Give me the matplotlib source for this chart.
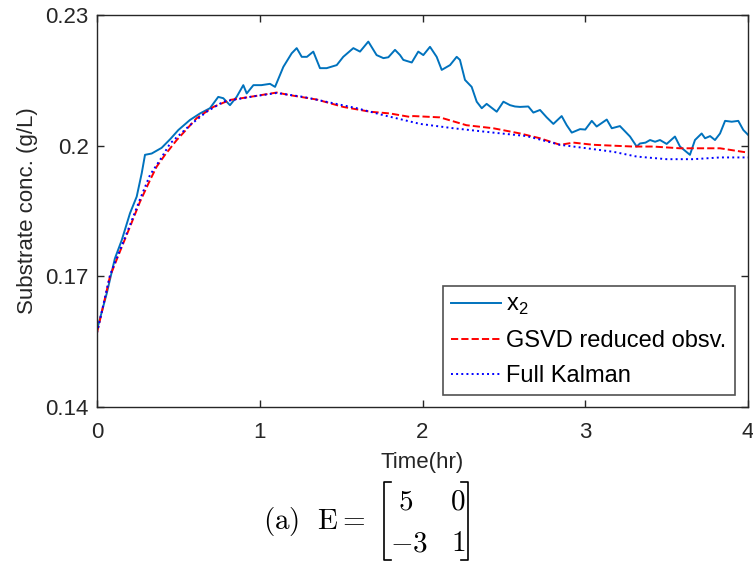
import numpy as np
import matplotlib.pyplot as plt
from matplotlib.lines import Line2D

plt.rcParams['font.family'] = ['Liberation Sans', 'DejaVu Sans']
plt.rcParams['mathtext.fontset'] = 'cm'

t_x2 = [0.0, 0.06, 0.11, 0.152, 0.203, 0.244, 0.275, 0.295, 0.336, 0.397, 0.45, 0.5,
        0.571, 0.633, 0.694, 0.745, 0.776, 0.817, 0.858, 0.899, 0.92, 0.961, 1.01,
        1.063, 1.094, 1.145, 1.196, 1.227, 1.258, 1.29, 1.329, 1.37, 1.411, 1.473,
        1.513, 1.575, 1.616, 1.667, 1.718, 1.76, 1.79, 1.831, 1.862, 1.882, 1.934,
        1.974, 2.005, 2.046, 2.087, 2.118, 2.169, 2.21, 2.23, 2.261, 2.302, 2.333,
        2.364, 2.394, 2.456, 2.497, 2.538, 2.568, 2.599, 2.65, 2.681, 2.722, 2.763,
        2.804, 2.855, 2.886, 2.917, 2.968, 3.0, 3.04, 3.07, 3.132, 3.163, 3.213,
        3.275, 3.316, 3.336, 3.37, 3.398, 3.429, 3.459, 3.5, 3.551, 3.582, 3.643,
        3.674, 3.715, 3.736, 3.767, 3.797, 3.828, 3.859, 3.9, 3.94, 3.971, 4.0]
x2 = [0.1577, 0.1661, 0.1741, 0.1783, 0.1845, 0.1883, 0.1937, 0.1979, 0.1982, 0.1995,
      0.2015, 0.2036, 0.2059, 0.2074, 0.2086, 0.2112, 0.2109, 0.2093, 0.2112, 0.2139,
      0.212, 0.2139, 0.2139, 0.2142, 0.2135, 0.2181, 0.2212, 0.2224, 0.2204, 0.2204,
      0.2216, 0.2178, 0.2178, 0.2185, 0.2204, 0.2224, 0.2216, 0.2239, 0.2208, 0.2201,
      0.2203, 0.222, 0.2208, 0.2197, 0.2191, 0.2216, 0.2208, 0.2227, 0.2204, 0.2174,
      0.2185, 0.2204, 0.2197, 0.2151, 0.2135, 0.2101, 0.2086, 0.2096, 0.2078, 0.2101,
      0.2093, 0.209, 0.2089, 0.209, 0.2076, 0.2082, 0.2065, 0.205, 0.2068, 0.2047,
      0.203, 0.2038, 0.2037, 0.2057, 0.2044, 0.206, 0.204, 0.2045, 0.2021, 0.1998,
      0.2005, 0.2007, 0.2013, 0.2009, 0.2013, 0.2004, 0.2021, 0.1998, 0.1979, 0.2013,
      0.2028, 0.2017, 0.2022, 0.2013, 0.2028, 0.2057, 0.2055, 0.2057, 0.2036, 0.2025]

# GSVD reduced observer estimate
t_gsvd = [0.0, 0.08, 0.141, 0.203, 0.264, 0.326, 0.367, 0.418, 0.49, 0.51, 0.612,
          0.715, 0.817, 0.94, 1.104, 1.186, 1.35, 1.513, 1.677, 1.8, 1.923, 1.944,
          2.107, 2.27, 2.435, 2.6, 2.722, 2.845, 2.927, 3.05, 3.172, 3.295, 3.418,
          3.582, 3.705, 3.828, 4.0]
gsvd = [0.157, 0.17, 0.1757, 0.1814, 0.1871, 0.1921, 0.1952, 0.1979, 0.2013, 0.2021,
        0.2063, 0.2089, 0.2105, 0.2112, 0.2122, 0.2116, 0.2106, 0.2089, 0.2078, 0.2074,
        0.2066, 0.2068, 0.2065, 0.2047, 0.204, 0.2028, 0.2017, 0.2002, 0.2007, 0.2002,
        0.2, 0.1998, 0.1998, 0.1994, 0.1994, 0.1994, 0.1984]

# full Kalman filter estimate
t_kal = [0.0, 0.08, 0.141, 0.203, 0.264, 0.326, 0.387, 0.449, 0.571, 0.674, 0.776,
         0.94, 1.104, 1.268, 1.432, 1.596, 1.76, 1.862, 1.985, 2.19, 2.435, 2.64,
         2.845, 3.01, 3.172, 3.316, 3.5, 3.664, 3.828, 4.0]
kal = [0.157, 0.1703, 0.176, 0.1818, 0.1877, 0.1933, 0.1967, 0.2005, 0.2047, 0.2078,
       0.2101, 0.2112, 0.2121, 0.2112, 0.2099, 0.2086, 0.207, 0.2061, 0.205, 0.204,
       0.203, 0.2022, 0.2002, 0.1994, 0.1986, 0.1975, 0.1969, 0.1969, 0.1973, 0.1973]

fs = 16

fig = plt.figure(figsize=(7.53, 5.67), dpi=100)
ax = fig.add_axes([0.1288, 0.2822, 0.8646, 0.6913])

ax.plot(t_x2, x2, color='#0072BD', lw=1.4, label=r'x$_\mathregular{2}$')
ax.plot(t_gsvd, gsvd, 'r--', lw=1.4, label='GSVD reduced obsv.')
ax.plot(t_kal, kal, 'b:', lw=1.4, label='Full Kalman')

ax.set_xlim(0, 4)
ax.set_ylim(0.14, 0.23)
ax.set_xticks([0, 1, 2, 3, 4])
ax.set_yticks([0.14, 0.17, 0.2, 0.23])
ax.set_yticklabels(['0.14', '0.17', '0.2', '0.23'])
ax.tick_params(direction='in', labelsize=fs, top=True, right=True, length=5,
               width=1, color='#262626', labelcolor='#262626')
ax.tick_params(axis='x', pad=11)
ax.tick_params(axis='y', pad=6)
for s in ax.spines.values():
    s.set_color('#262626')
    s.set_linewidth(1)
ax.set_xlabel('Time(hr)', fontsize=fs, color='#262626', labelpad=6)
ax.set_ylabel('Substrate conc. (g/L)', fontsize=fs, color='#262626', labelpad=5)

leg = ax.legend(loc='lower right', bbox_to_anchor=(0.98, 0.03),
                fontsize=17, frameon=True, fancybox=False, handlelength=2.1,
                borderpad=0.35, labelspacing=0.55, handletextpad=0.25,
                borderaxespad=0.0)
leg.get_frame().set_edgecolor('#262626')
leg.get_frame().set_linewidth(1.2)

# caption with matrix
cs = 21
fig.text(0.4847, 0.0794, r'$\mathrm{(a)}\ \ \mathrm{E} =$', ha='right', va='center', fontsize=cs)
fig.text(0.538, 0.1152, r'$5$', ha='center', va='center', fontsize=cs)
fig.text(0.608, 0.1152, r'$0$', ha='center', va='center', fontsize=cs)
fig.text(0.568, 0.0423, r'$-3$', ha='right', va='center', fontsize=cs)
fig.text(0.608, 0.0423, r'$1$', ha='center', va='center', fontsize=cs)
W, H = 753, 567
for x0, dx in [(384, 7), (468, -7)]:
    fig.add_artist(Line2D([(x0 + dx) / W, x0 / W, x0 / W, (x0 + dx) / W],
                          [1 - 482 / H, 1 - 482 / H, 1 - 560 / H, 1 - 560 / H],
                          color='black', lw=1.2))

fig.savefig('out.png', dpi=100)
